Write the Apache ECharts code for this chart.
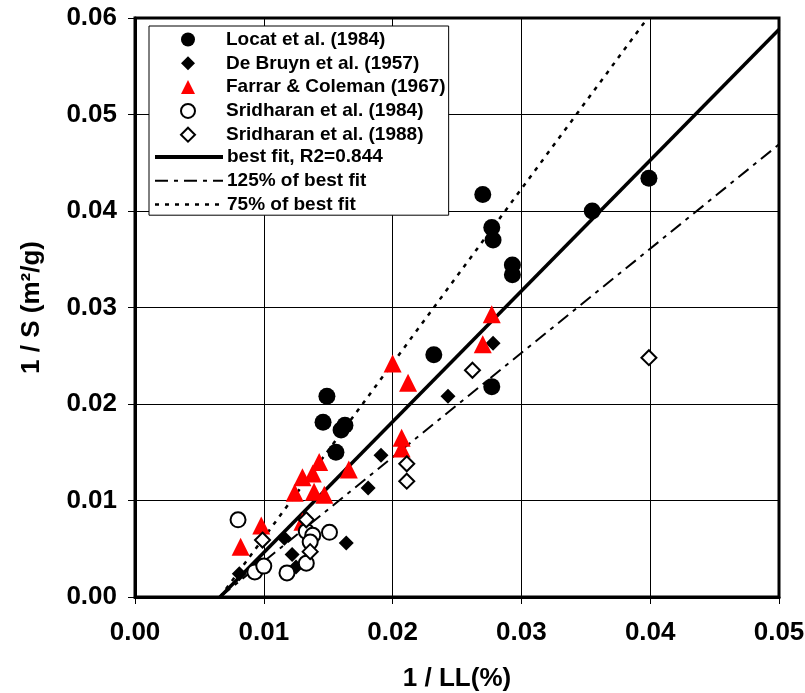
<!DOCTYPE html>
<html>
<head>
<meta charset="utf-8">
<script src="https://cdn.jsdelivr.net/npm/echarts@6/dist/echarts.min.js"></script>
<style>html,body{margin:0;padding:0;background:#fff;}#c{width:805px;height:693px;}</style>
</head>
<body>
<div id="c"></div>
<script>
// ---- data ----
var xTicks = [0.00, 0.01, 0.02, 0.03, 0.04, 0.05];
var yTicks = [0.00, 0.01, 0.02, 0.03, 0.04, 0.05, 0.06];

var locat1984 = [
  [0.0270, 0.0417], [0.0277, 0.0383], [0.0278, 0.0370], [0.0293, 0.0344], [0.0293, 0.0334],
  [0.0355, 0.0400], [0.0399, 0.0434], [0.0232, 0.0251], [0.0277, 0.0218], [0.0149, 0.0208],
  [0.0146, 0.0181], [0.0163, 0.0178], [0.0160, 0.0173], [0.0156, 0.0150]
];
var deBruyn1957 = [
  [0.0081, 0.0024], [0.0094, 0.0031], [0.0116, 0.0061], [0.0122, 0.0044], [0.0125, 0.0031],
  [0.0164, 0.0056], [0.0181, 0.0113], [0.0191, 0.0147], [0.0243, 0.0208], [0.0278, 0.0263]
];
var farrarColeman1967 = [
  [0.0082, 0.0052], [0.0098, 0.0074], [0.0130, 0.0078], [0.0124, 0.0108], [0.0130, 0.0124],
  [0.0138, 0.0128], [0.0143, 0.0140], [0.0139, 0.0109], [0.0147, 0.0106], [0.0166, 0.0132],
  [0.0200, 0.0242], [0.0212, 0.0222], [0.0207, 0.0165], [0.0207, 0.0154], [0.0277, 0.0293],
  [0.0270, 0.0262]
];
var sridharan1984 = [
  [0.0080, 0.0080], [0.0093, 0.0026], [0.0100, 0.0032], [0.0118, 0.0025], [0.0133, 0.0035],
  [0.0133, 0.0068], [0.0138, 0.0064], [0.0136, 0.0057], [0.0151, 0.0067]
];
var sridharan1988 = [
  [0.0099, 0.0059], [0.0133, 0.0080], [0.0136, 0.0047], [0.0211, 0.0138], [0.0211, 0.0120],
  [0.0262, 0.0235], [0.0399, 0.0248]
];
var bestFit = [[0.0066, 0.0], [0.0500, 0.0588]];
var fit125 = [[0.0066, 0.0], [0.0500, 0.0469]];
var fit75 = [[0.0066, 0.0], [0.0398, 0.0600]];

var markerNames = [
  'Locat et al. (1984)', 'De Bruyn et al. (1957)', 'Farrar & Coleman (1967)',
  'Sridharan et al. (1984)', 'Sridharan et al. (1988)'
];
var lineNames = ['best fit, R2=0.844', '125% of best fit', '75% of best fit'];

var FONT = '"Liberation Sans", Arial, sans-serif';
var chart = echarts.init(document.getElementById('c'), null, {renderer: 'canvas'});

function lineSeries(name, data, width, type) {
  return {
    name: name, type: 'line', data: data, symbol: 'none', showSymbol: false,
    lineStyle: {color: '#000', width: width, type: type}, itemStyle: {color: '#000'},
    z: 2, animation: false, silent: true
  };
}
function scatter(name, data, symbol, size, fill, border, bw) {
  return {
    name: name, type: 'scatter', data: data, symbol: symbol, symbolSize: size,
    itemStyle: {color: fill, borderColor: border, borderWidth: bw, opacity: 1},
    z: 3, animation: false
  };
}
var legendText = {fontFamily: FONT, fontWeight: 'bold', fontSize: 19, color: '#000'};

chart.setOption({
  animation: false,
  backgroundColor: '#fff',
  textStyle: {fontFamily: FONT},
  grid: {left: 135, right: 26, top: 18, bottom: 96, show: true, borderColor: '#000', borderWidth: 3,
    backgroundColor: '#fff', containLabel: false, outerBoundsMode: 'none'},
  legend: [{
    orient: 'vertical', left: 149, top: 26,
    padding: [4, 3, 71, 31],
    itemWidth: 14, itemHeight: 14, itemGap: 4.8,
    backgroundColor: '#fff', borderColor: '#000', borderWidth: 1,
    textStyle: Object.assign({padding: [0, 0, 0, 26]}, legendText),
    data: markerNames,
    selectedMode: false, z: 5
  }, {
    orient: 'vertical', left: 153, top: 147.5,
    padding: 0,
    itemWidth: 68, itemHeight: 14, itemGap: 4.8,
    itemStyle: {opacity: 0},
    textStyle: Object.assign({padding: [0, 0, 0, -1]}, legendText),
    data: [
      {name: lineNames[0], lineStyle: {width: 4}},
      {name: lineNames[1], lineStyle: {width: 2}},
      {name: lineNames[2], lineStyle: {width: 2.5}}
    ],
    selectedMode: false, z: 6
  }],
  xAxis: {
    type: 'value', min: xTicks[0], max: xTicks[xTicks.length - 1], interval: 0.01,
    name: '1 / LL(%)', nameLocation: 'middle', nameGap: 69,
    nameTextStyle: {fontFamily: FONT, fontWeight: 'bold', fontSize: 26, color: '#000'},
    axisLine: {show: true, onZero: false, lineStyle: {color: '#000', width: 3}},
    axisTick: {show: true, length: 7, lineStyle: {color: '#000', width: 1}},
    axisLabel: {margin: 23, fontFamily: FONT, fontWeight: 'bold', fontSize: 26, color: '#000',
      formatter: function (v) { return v.toFixed(2); }},
    splitLine: {show: true, lineStyle: {color: '#000', width: 1}}
  },
  yAxis: {
    type: 'value', min: yTicks[0], max: yTicks[yTicks.length - 1], interval: 0.01,
    name: '1 / S (m²/g)', nameLocation: 'middle', nameGap: 90, nameRotate: 90,
    nameTextStyle: {fontFamily: FONT, fontWeight: 'bold', fontSize: 26, color: '#000'},
    axisLine: {show: true, onZero: false, lineStyle: {color: '#000', width: 3}},
    axisTick: {show: true, length: 7, lineStyle: {color: '#000', width: 1}},
    axisLabel: {margin: 18, fontFamily: FONT, fontWeight: 'bold', fontSize: 26, color: '#000',
      formatter: function (v) { return v.toFixed(2); }},
    splitLine: {show: true, lineStyle: {color: '#000', width: 1}}
  },
  series: [
    scatter(markerNames[0], locat1984, 'circle', 17, '#000', '#000', 0),
    scatter(markerNames[1], deBruyn1957, 'diamond', 15, '#000', '#000', 0),
    scatter(markerNames[2], farrarColeman1967, 'triangle', 18, '#ff0000', '#ff0000', 0),
    scatter(markerNames[3], sridharan1984, 'circle', 15, '#fff', '#000', 2),
    scatter(markerNames[4], sridharan1988, 'diamond', 15, '#fff', '#000', 2),
    lineSeries(lineNames[0], bestFit, 3.5, 'solid'),
    lineSeries(lineNames[1], fit125, 2, [13, 6, 4, 6]),
    lineSeries(lineNames[2], fit75, 2.5, [4, 6])
  ]
});
</script>
</body>
</html>
